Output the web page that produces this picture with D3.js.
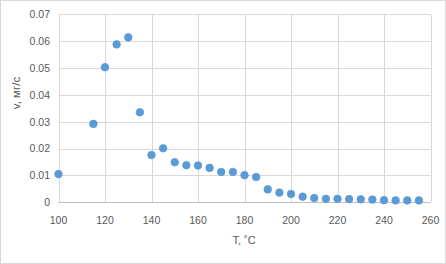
<!DOCTYPE html>
<html><head><meta charset="utf-8">
<script src="https://cdn.jsdelivr.net/npm/d3@7"></script>
<style>body{margin:0;background:#fff}svg{display:block}</style>
</head><body>
<script>
const temps = [100,115,120,125,130,135,140,145,150,155,160,165,170,175,180,185,190,195,200,205,210,215,220,225,230,235,240,245,250,255];
const rates = [0.0105,0.0292,0.0503,0.0588,0.0614,0.0335,0.0176,0.0201,0.0149,0.0138,0.0137,0.0128,0.0113,0.0113,0.0101,0.0094,0.0048,0.0036,0.0031,0.0021,0.0016,0.0013,0.0013,0.0012,0.0011,0.0010,0.0008,0.0007,0.0007,0.0007];
const xTicks = [100,120,140,160,180,200,220,240,260];
const yTicks = [0,0.01,0.02,0.03,0.04,0.05,0.06,0.07];
const xLabel = "T, ˚C";
const yLabel = "v, мг/c";

const W=446,H=264;
const svg=d3.select("body").append("svg").attr("width",W).attr("height",H);
svg.append("rect").attr("x",0.5).attr("y",0.5).attr("width",W-1).attr("height",H-1).attr("fill","#fff").attr("stroke","#d9d9d9");
const x=d3.scaleLinear().domain([100,260]).range([58.5,430.5]);
const y=d3.scaleLinear().domain([0,0.07]).range([202.3,14.3]);
const font="'Liberation Sans', Arial, sans-serif";
const g=svg.append("g");
g.selectAll(".hg").data(yTicks.slice(1)).join("line").attr("x1",x(100)).attr("x2",x(260))
 .attr("y1",d=>Math.round(y(d))+0.5).attr("y2",d=>Math.round(y(d))+0.5).attr("stroke","#d9d9d9");
g.selectAll(".vg").data(xTicks).join("line").attr("y1",y(0)).attr("y2",y(0.07))
 .attr("x1",d=>Math.round(x(d))+0.5).attr("x2",d=>Math.round(x(d))+0.5).attr("stroke","#d9d9d9");
g.append("line").attr("x1",x(100)).attr("x2",x(260)).attr("y1",Math.round(y(0))+0.5).attr("y2",Math.round(y(0))+0.5).attr("stroke","#bfbfbf");
g.selectAll(".yt").data(yTicks).join("text").attr("x",50).attr("y",d=>y(d)+3.8)
 .attr("text-anchor","end").attr("font-family",font).attr("font-size","10.5px").attr("fill","#595959")
 .text(d=>d===0?"0":d.toFixed(2));
g.selectAll(".xt").data(xTicks).join("text").attr("x",d=>x(d)).attr("y",224)
 .attr("text-anchor","middle").attr("font-family",font).attr("font-size","10.5px").attr("fill","#595959").text(d=>d);
svg.append("text").attr("x",244).attr("y",244).attr("text-anchor","middle").attr("font-family",font)
 .attr("font-size","11px").attr("fill","#595959").text(xLabel);
svg.append("text").attr("transform","translate(20,93) rotate(-90)").attr("text-anchor","middle").attr("font-family",font)
 .attr("font-size","11.5px").attr("fill","#595959").text(yLabel);
svg.append("g").selectAll("circle").data(temps.map((t,i)=>[t,rates[i]])).join("circle")
 .attr("cx",d=>x(d[0])).attr("cy",d=>y(d[1])).attr("r",3.8).attr("fill","#5b9bd5").attr("stroke","#5b9bd5").attr("stroke-width",0.75);
</script>
</body></html>
